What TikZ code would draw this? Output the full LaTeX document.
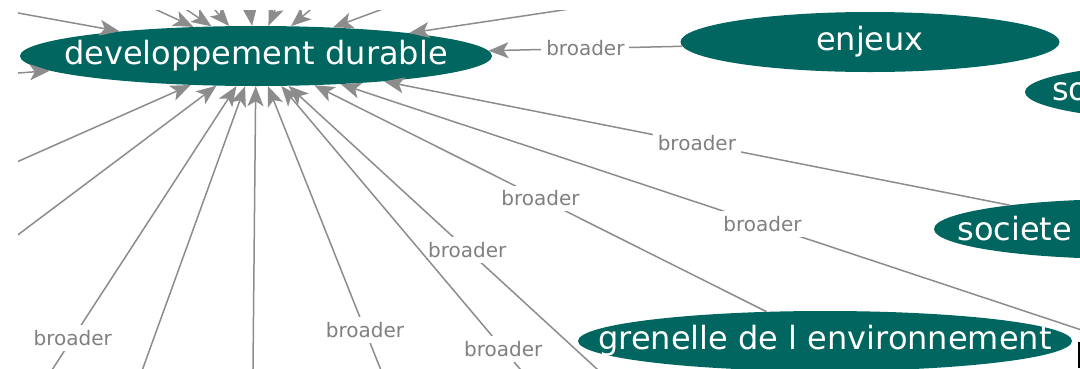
\documentclass[tikz,border=0pt]{standalone}
\usepackage{fontspec}
\setmainfont{DejaVu Sans}
\usepackage{tikz}
\usetikzlibrary{shapes}
\usetikzlibrary{arrows.meta}
\definecolor{pinegreen}{HTML}{00665F}
\definecolor{edgegray}{HTML}{8C8C8C}
\definecolor{labelgray}{HTML}{808080}

\begin{document}
\begin{tikzpicture}[x=1pt,y=-1pt,
		concept/.style={ellipse,fill=pinegreen,text=white,inner xsep=-150pt,inner ysep=0pt,minimum height=60pt,font=\fontsize{32}{32}\selectfont},
		broader/.style={draw=edgegray,line width=1.5pt,-{Stealth[length=20pt,width=16pt,inset=5pt]}},
		lbl/.style={fill=white,text=labelgray,inner sep=5pt,font=\fontsize{20}{20}\selectfont}]
		\useasboundingbox (0,0) rectangle (1080,368);
		\clip (18,10) rectangle (1080,368);

		% concepts
		\node[concept,minimum width=472pt] (dd) at (256,56) {developpement durable};
		\node[concept,minimum width=379pt] (enjeux) at (870,42) {enjeux};
		\node[concept,minimum width=380pt,text width=326pt,align=left] (so) at (1215,92) {so};
		\node[concept,minimum width=392pt,text width=345pt,align=left] (societe) at (1130,229) {societe};
		\node[concept,minimum width=494pt] (grenelle) at (825,341) {grenelle de l environnement};

		% concepts outside the view
		\coordinate (nw) at (-458,-73);
		\coordinate (w) at (-458,107);
		\coordinate (sw1) at (-455,371);
		\coordinate (sw2) at (-455,590);
		\coordinate (sw3) at (-91,590);
		\coordinate (s1) at (30,680);
		\coordinate (s2) at (250,680);
		\coordinate (s3) at (462,574);
		\coordinate (s4) at (646,414);
		\coordinate (s5) at (725,612);
		\coordinate (se) at (1184,364);
		\coordinate (n1) at (-41,-82);
		\coordinate (n2) at (49,-82);
		\coordinate (n3) at (133,-82);
		\coordinate (n4) at (238,-82);
		\coordinate (n5) at (313,-82);
		\coordinate (n6) at (418,-82);
		\coordinate (n7) at (628,-82);
		\coordinate (ne) at (1177,-82);

		% broader links
		\draw[broader] (enjeux) -- node[lbl] {broader} (dd);
		\draw[broader] (societe) -- node[lbl] {broader} (dd);
		\draw[broader] (grenelle) -- node[lbl] {broader} (dd);
		\draw[broader] (se) -- node[lbl] {broader} (dd);
		\draw[broader] (s4) -- node[lbl] {broader} (dd);
		\draw[broader] (s5) -- node[lbl] {broader} (dd);
		\draw[broader] (s3) -- node[lbl] {broader} (dd);
		\draw[broader] (sw3) -- node[lbl] {broader} (dd);
		\draw[broader] (s2) -- (dd);
		\draw[broader] (s1) -- (dd);
		\draw[broader] (sw2) -- (dd);
		\draw[broader] (sw1) -- (dd);
		\draw[broader] (w) -- (dd);
		\draw[broader] (nw) -- (dd);
		\draw[broader] (n1) -- (dd);
		\draw[broader] (n2) -- (dd);
		\draw[broader] (n3) -- (dd);
		\draw[broader] (n4) -- (dd);
		\draw[broader] (n5) -- (dd);
		\draw[broader] (n6) -- (dd);
		\draw[broader] (n7) -- (dd);
		\draw[broader] (ne) -- (dd);

		\draw[black,line width=2pt] (1079,342) -- (1079,368);
\end{tikzpicture}
\end{document}
